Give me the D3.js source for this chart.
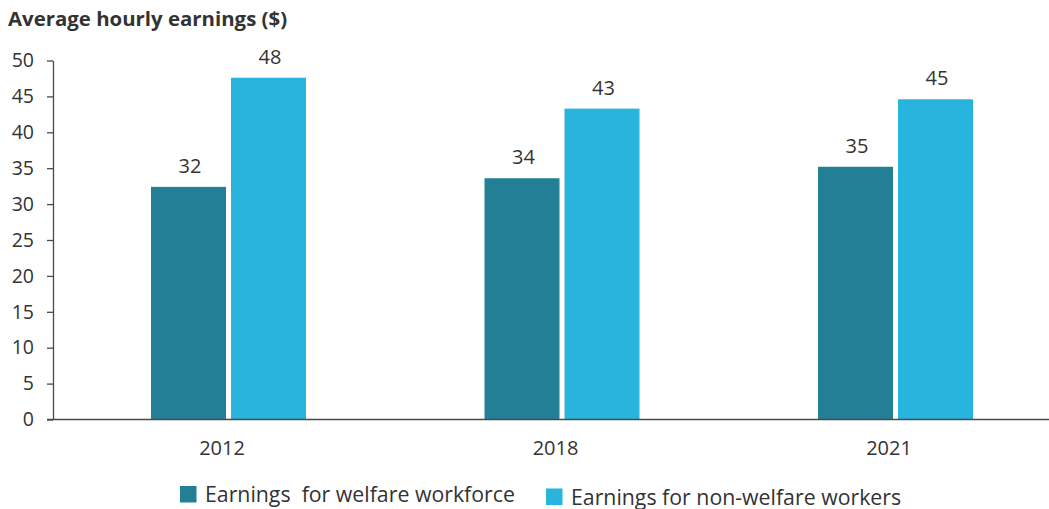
<!DOCTYPE html>
<html>
<head>
<meta charset="utf-8">
<script src="https://cdn.jsdelivr.net/npm/d3@7"></script>
<style>
  html, body { margin: 0; padding: 0; background: #fff; }
  svg { display: block; font-family: "Open Sans", sans-serif; }
</style>
</head>
<body>
<svg id="chart" width="1049" height="509"></svg>
<script>
// Average hourly earnings by year, welfare workforce vs non-welfare workers
const years = ["2012", "2018", "2021"];
const seriesNames = ["Earnings  for welfare workforce", "Earnings for non-welfare workers"];
const welfare = [32.4, 33.6, 35.2];
const nonWelfare = [47.6, 43.3, 44.6];
const yTicks = [0, 5, 10, 15, 20, 25, 30, 35, 40, 45, 50];
const colors = ["#237f96", "#28b4dd"];

const svg = d3.select("#chart");
const textColor = "#333333";
const axisColor = "#4a4a4a";

const yAxisX = 53;
const y = d3.scaleLinear().domain([0, 50]).range([419.5, 60.5]);

// group positions along the x axis
const x0 = d3.scaleBand().domain(years).range([55.25, 1055.75]).paddingInner(0).paddingOuter(0);
const clusterShift = 6.5;
const clusterHalf = 77.5;
const x1 = d3.scaleBand().domain(seriesNames)
  .range([x0.bandwidth() / 2 - clusterHalf, x0.bandwidth() / 2 + clusterHalf])
  .paddingInner(0.0625).paddingOuter(0);

const rows = years.map((yr, i) => ({
  year: yr,
  values: [
    { key: seriesNames[0], value: welfare[i], color: colors[0] },
    { key: seriesNames[1], value: nonWelfare[i], color: colors[1] }
  ]
}));

// title
svg.append("text")
  .attr("x", 8).attr("y", 26)
  .attr("fill", textColor)
  .attr("font-size", 20.4).attr("font-weight", 700)
  .text("Average hourly earnings ($)");

// y axis
const yAxis = d3.axisLeft(y).tickValues(yTicks).tickSizeInner(6).tickSizeOuter(0).tickPadding(13);
const gy = svg.append("g").attr("transform", `translate(${yAxisX},0)`).call(yAxis);
gy.select(".domain").attr("stroke", axisColor).attr("stroke-width", 1.3);
gy.selectAll(".tick line").attr("stroke", axisColor).attr("stroke-width", 1.3);
gy.selectAll(".tick text")
  .attr("fill", textColor).attr("font-size", 19.5)
  .attr("font-family", "Open Sans, sans-serif");

// bars
const groups = svg.append("g").selectAll("g")
  .data(rows).join("g")
  .attr("transform", d => `translate(${x0(d.year) + clusterShift},0)`);

groups.selectAll("rect")
  .data(d => d.values).join("rect")
  .attr("x", d => x1(d.key))
  .attr("width", x1.bandwidth())
  .attr("y", d => y(d.value))
  .attr("height", d => y(0) - y(d.value))
  .attr("fill", d => d.color);

groups.selectAll("text.value")
  .data(d => d.values).join("text")
  .attr("class", "value")
  .attr("x", d => x1(d.key) + x1.bandwidth() / 2 + 1.5)
  .attr("y", d => y(d.value) - 14)
  .attr("text-anchor", "middle")
  .attr("fill", textColor).attr("font-size", 20)
  .text(d => d3.format(".0f")(d.value));

// x axis
const xAxis = d3.axisBottom(x0).tickSize(0).tickPadding(0);
const gx = svg.append("g").attr("transform", `translate(0,${y(0)})`).call(xAxis);
gx.select(".domain").remove();
gx.append("line")
  .attr("x1", 47).attr("x2", 1049)
  .attr("stroke", axisColor).attr("stroke-width", 1.6);
gx.selectAll(".tick text")
  .attr("y", 35).attr("dy", 0)
  .attr("fill", textColor).attr("font-size", 20)
  .attr("font-family", "Open Sans, sans-serif");

// legend
const legendItems = [
  { label: seriesNames[0], color: colors[0], x: 180, y: 486 },
  { label: seriesNames[1], color: colors[1], x: 546, y: 488.5 }
];
const lg = svg.append("g").selectAll("g").data(legendItems).join("g")
  .attr("transform", d => `translate(${d.x},${d.y})`);
lg.append("rect").attr("width", 16.5).attr("height", 16.5).attr("fill", d => d.color);
lg.append("text")
  .attr("x", 25).attr("y", 16)
  .attr("fill", textColor).attr("font-size", 21.3)
  .attr("xml:space", "preserve")
  .style("white-space", "pre")
  .text(d => d.label);
</script>
</body>
</html>
